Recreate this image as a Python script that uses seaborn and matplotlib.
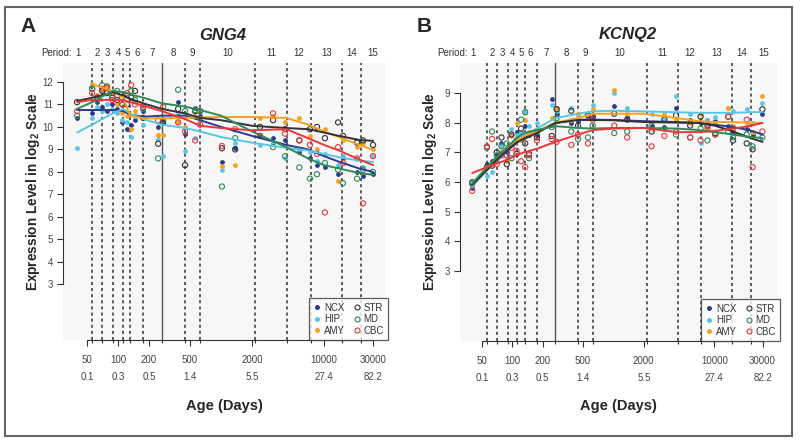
import numpy as np
import pandas as pd
import matplotlib
matplotlib.use("Agg")
import matplotlib.pyplot as plt
import matplotlib.transforms as mtransforms
from matplotlib.lines import Line2D
from matplotlib.patches import Rectangle
from matplotlib.ticker import FixedLocator, NullFormatter
import seaborn as sns

nan = np.nan

# Regions and how they are drawn
regions = ["NCX", "HIP", "AMY", "STR", "MD", "CBC"]
region_colors = ["#2c3a8e", "#5bc6e3", "#f5a21f", "#333333", "#2e8b57", "#e8383d"]
filled = [True, True, True, False, False, False]

# Developmental periods (days post conception)
period_bounds = [56, 70, 90, 112, 132, 175, 266, 448, 630, 2150, 4400, 7400, 15000, 22800]
birth_day = 266
period_names = [str(i) for i in range(1, 16)]

tick_days = [50, 100, 200, 500, 2000, 10000, 30000]
tick_years = ["0.1", "0.3", "0.5", "1.4", "5.5", "27.4", "82.2"]

# Sample ages (days) of the scatter points
sample_days = [40, 56, 63, 70, 78, 88, 98, 110, 122, 134, 146, 175, 245, 274, 383, 447,
               560, 625, 1020, 1370, 2390, 3200, 4180, 5760, 7300, 8550, 10200, 13700,
               15300, 20900, 23900, 29900]

# Ages (days) at which the fitted curves are read
fit_days = [40, 56, 70, 89, 112, 131, 175, 266, 447, 625, 1000, 2000, 4300, 7000,
            10000, 14000, 22000, 30000]

# GNG4 samples
gng4_ncx = [10.4, 10.6, 11.1, 10.9, 10.7, 11.0, 10.8, 10.2, 9.9, 10.1, 10.3, 10.7, 10.0, 10.2, 11.1, 9.7,
            10.85, 10.5, 8.45, 9.05, 9.6, 9.5, 9.4, 8.9, 8.6, 8.3, 8.2, 7.9, 8.6, 8.0, 7.8, 7.9]
gng4_hip = [9.05, 10.4, 10.9, 10.7, 11.0, 10.8, 10.6, 10.3, 10.2, 9.55, 10.5, 10.1, 9.45, 8.7, 10.6, 8.95,
            9.5, 10.3, 8.1, 9.3, 9.2, 9.3, 8.6, 9.0, 8.9, 8.5, 8.8, 8.3, 8.7, 8.6, 8.2, 8.7]
gng4_amy = [nan, 11.9, 11.4, 11.7, 11.8, 11.5, 11.0, 10.6, 10.5, 9.9, 10.7, 10.4, 9.65, 9.65, 10.2, 10.0,
            10.5, 10.3, 8.25, 8.3, 10.4, 10.5, 10.2, 10.4, 9.6, 9.0, 9.9, 7.6, 9.4, 9.1, 9.3, 9.0]
gng4_str = [11.1, 11.7, 11.3, 11.6, 11.5, 11.3, 11.2, 11.0, 11.0, 11.3, 11.6, 10.4, 9.25, 10.2, 10.8, 8.3,
            10.7, 10.7, 9.05, 9.0, 10.0, 10.3, 9.9, 9.4, 9.9, 10.0, 9.5, 10.2, 9.6, 9.3, 9.4, 9.2]
gng4_md = [10.5, 11.7, 11.2, 11.85, 11.8, 11.4, 11.6, 11.3, 11.4, 11.6, 11.2, 10.8, 8.6, 10.3, 11.65, 10.7,
           10.75, 10.7, 7.35, 9.5, 9.6, 9.1, 8.7, 8.2, 7.7, 7.9, 8.4, 8.1, 7.5, 7.7, 8.1, 8.0]
gng4_cbc = [10.7, 11.5, 11.3, 11.7, 11.75, 11.2, 11.4, 11.0, 11.5, 11.85, 11.0, 10.9, 10.3, 10.9, 10.2, 9.8,
            9.4, 10.1, 9.15, 9.9, 9.6, 10.6, 9.7, 9.4, 9.2, 8.8, 6.2, 9.1, 8.4, 8.6, 6.6, 8.7]

# GNG4 fitted curves
gng4_ncx_fit = [10.75, 10.75, 10.75, 10.75, 10.7, 10.55, 10.45, 10.5, 10.5, 10.3, 10.0, 9.6, 9.2, 9.0, 8.7, 8.45, 8.15, 8.0]
gng4_hip_fit = [9.75, 10.1, 10.35, 10.6, 10.8, 10.6, 10.35, 10.1, 9.95, 9.8, 9.55, 9.3, 9.07, 8.95, 8.8, 8.65, 8.5, 8.44]
gng4_amy_fit = [nan, 11.9, 11.75, 11.6, 11.3, 10.5, 10.38, 10.38, 10.4, 10.42, 10.44, 10.44, 10.4, 10.1, 9.8, 9.55, 9.2, 8.98]
gng4_str_fit = [11.15, 11.3, 11.4, 11.55, 11.4, 11.25, 11.05, 10.8, 10.6, 10.4, 10.3, 10.05, 9.95, 9.9, 9.75, 9.6, 9.42, 9.38]
gng4_md_fit = [10.8, 11.1, 11.35, 11.6, 11.55, 11.45, 11.3, 11.05, 10.9, 10.75, 10.5, 9.8, 9.1, 8.6, 8.3, 8.15, 7.95, 7.87]
gng4_cbc_fit = [11.1, 11.2, 11.2, 11.2, 11.2, 11.1, 10.95, 10.7, 10.35, 10.05, 9.95, 9.85, 9.9, 9.5, 9.2, 8.95, 8.55, 8.3]

# KCNQ2 samples
kcnq2_ncx = [5.8, 6.6, 6.7, 6.9, 7.3, 7.0, 7.6, 7.7, 7.5, 7.9, 7.6, 7.6, 8.8, 8.3, 8.0, 8.05,
             8.2, 8.2, 8.55, 8.2, 7.9, 7.85, 8.5, 8.1, 8.0, 8.1, 8.05, 7.9, 7.7, 7.8, 7.6, 8.3]
kcnq2_hip = [5.9, 6.2, 6.35, 6.7, 7.2, 6.8, 7.8, 7.6, 7.7, 8.4, 7.9, 8.0, 8.6, 8.4, 8.5, 8.2,
             8.3, 8.6, 9.0, 8.5, 8.3, 8.1, 8.9, 8.3, 7.3, 8.1, 8.2, 8.5, 8.4, 8.45, 8.0, 8.65]
kcnq2_amy = [nan, 6.55, 6.6, 6.8, 7.0, 6.7, 7.55, 8.0, 7.4, 8.1, 7.7, 7.8, 8.15, 8.5, 8.1, 8.3,
             8.2, 8.45, 9.1, 8.3, 7.8, 8.3, 8.1, 8.0, 8.3, 7.8, 8.0, 8.5, 7.9, 8.0, 7.7, 8.9]
kcnq2_str = [5.95, 6.5, 6.55, 7.0, 7.5, 6.6, 7.6, 6.95, 7.8, 7.3, 6.95, 7.5, 7.55, 8.45, 8.4, 7.9,
             8.25, 8.2, 8.3, 8.1, 7.7, 8.1, 8.25, 7.9, 8.2, 7.9, 7.65, 8.2, 7.4, 7.3, 7.1, 8.45]
kcnq2_md = [6.0, 7.15, 7.7, 6.9, 7.2, 7.3, 6.8, 7.4, 8.1, 8.35, 6.8, 7.7, 7.85, 8.15, 7.7, 7.45,
            7.5, 7.9, 7.65, 7.7, 7.9, 7.8, 7.6, 7.5, 7.8, 7.4, 7.6, 7.7, 7.5, 7.6, 7.2, 7.5]
kcnq2_cbc = [5.7, 7.2, 7.45, 6.6, 6.9, 6.9, 7.15, 7.05, 6.7, 6.5, 6.9, 7.4, 7.45, 7.35, 7.25, 7.6,
             7.3, 8.1, 7.9, 7.5, 7.2, 7.55, 7.7, 7.5, 7.4, 7.8, 7.6, 8.2, 7.8, 8.1, 6.5, 7.7]

# KCNQ2 fitted curves
kcnq2_ncx_fit = [5.9, 6.4, 6.72, 7.05, 7.35, 7.5, 7.7, 7.98, 8.1, 8.1, 8.09, 8.05, 8.02, 7.99, 7.93, 7.87, 7.75, 7.6]
kcnq2_hip_fit = [5.85, 6.4, 6.75, 7.1, 7.45, 7.6, 7.8, 8.15, 8.3, 8.38, 8.4, 8.38, 8.35, 8.33, 8.33, 8.33, 8.35, 8.36]
kcnq2_amy_fit = [nan, 6.45, 6.75, 7.1, 7.4, 7.55, 7.7, 8.0, 8.15, 8.3, 8.3, 8.3, 8.15, 8.05, 8.02, 8.02, 8.0, 7.99]
kcnq2_str_fit = [5.9, 6.4, 6.75, 7.08, 7.35, 7.45, 7.65, 7.99, 8.09, 8.09, 8.08, 8.02, 8.0, 7.99, 7.9, 7.75, 7.5, 7.35]
kcnq2_md_fit = [5.95, 6.5, 6.85, 7.18, 7.5, 7.65, 7.75, 7.88, 7.82, 7.8, 7.82, 7.82, 7.8, 7.75, 7.68, 7.62, 7.52, 7.48]
kcnq2_cbc_fit = [6.3, 6.5, 6.62, 6.75, 6.92, 7.0, 7.12, 7.35, 7.6, 7.75, 7.8, 7.82, 7.68, 7.68, 7.72, 7.78, 7.88, 7.99]


def long_frame(days, series):
    frames = [pd.DataFrame({"days": days, "value": vals, "region": name})
              for name, vals in zip(regions, series)]
    return pd.concat(frames, ignore_index=True).dropna()


sns.set_style("white")
plt.rcParams["font.family"] = ["Liberation Sans", "DejaVu Sans"]
plt.rcParams["mathtext.fontset"] = "custom"
plt.rcParams["mathtext.rm"] = "Liberation Sans"
plt.rcParams["mathtext.bf"] = "Liberation Sans:bold"
plt.rcParams["mathtext.it"] = "Liberation Sans:italic"

fig = plt.figure(figsize=(8, 4.45), dpi=100)


def draw_panel(ax, points, fits, xlim, ylim, yticks):
    ax.set_facecolor("#f7f7f7")
    ax.set_xscale("log")

    for b in period_bounds:
        if b == birth_day:
            ax.axvline(b, color="#555555", lw=1.0, zorder=1)
        else:
            ax.axvline(b, color="#333333", lw=1.1, ls=(0, (2, 2)), zorder=1)

    for name, color, fill in zip(regions, region_colors, filled):
        sub = points[points["region"] == name]
        if fill:
            sns.scatterplot(data=sub, x="days", y="value", color=color, s=12,
                            linewidth=0, ax=ax, zorder=2)
        else:
            sns.scatterplot(data=sub, x="days", y="value", color=color, facecolor="none",
                            edgecolor=color, s=14, linewidth=0.8, ax=ax, zorder=2)
    for name, color in zip(regions, region_colors):
        sub = fits[fits["region"] == name]
        sns.lineplot(data=sub, x="days", y="value", color=color, lw=1.4,
                     estimator=None, sort=True, ax=ax, zorder=3)

    ax.set_xlim(*xlim)
    ax.set_ylim(*ylim)
    ax.set_xlabel("")
    ax.set_ylabel("")

    ax.set_xticks(tick_days)
    ax.set_xticklabels([f"{d}\n{y}" for d, y in zip(tick_days, tick_years)], linespacing=1.9)
    ax.xaxis.set_minor_locator(FixedLocator(period_bounds))
    ax.xaxis.set_minor_formatter(NullFormatter())
    ax.set_yticks(yticks)
    ax.tick_params(axis="x", which="major", length=4, width=0.8, pad=7, labelsize=7,
                   labelcolor="#444444", color="#333333", bottom=True)
    ax.tick_params(axis="x", which="minor", length=2.5, width=0.8, color="#333333", bottom=True)
    ax.tick_params(axis="y", length=4, width=0.8, pad=3, labelsize=7,
                   labelcolor="#444444", color="#333333", left=True)

    for side in ["top", "right"]:
        ax.spines[side].set_visible(False)
    ax.spines["bottom"].set_bounds(tick_days[0], tick_days[-1])
    ax.spines["left"].set_bounds(yticks[0], yticks[-1])
    for side in ["bottom", "left"]:
        ax.spines[side].set_color("#333333")
        ax.spines[side].set_linewidth(0.8)

    # period numbers above the plot
    edges = [xlim[0]] + period_bounds + [xlim[1]]
    trans = mtransforms.blended_transform_factory(ax.transData, ax.transAxes)
    for i, name in enumerate(period_names):
        xc = np.sqrt(edges[i] * edges[i + 1])
        ax.text(xc, 1.036, name, transform=trans, ha="center", va="center",
                fontsize=7, color="#333333")
    ax.annotate("Period:", xy=(np.sqrt(edges[0] * edges[1]), 1.036), xycoords=trans,
                xytext=(-6, 0), textcoords="offset pixels", ha="right", va="center",
                fontsize=7, color="#333333")

    handles = []
    for color, fill in zip(region_colors, filled):
        handles.append(Line2D([], [], ls="", marker="o", ms=3.6, color=color,
                              markerfacecolor=color if fill else "none",
                              markeredgewidth=0 if fill else 0.8))
    leg = ax.legend(handles, regions, ncol=2, loc="lower right", bbox_to_anchor=(1.01, 0),
                    frameon=True, fancybox=False, fontsize=7, handlelength=0.8,
                    handletextpad=0.3, columnspacing=0.8, borderpad=0.45,
                    labelspacing=0.15, borderaxespad=0)
    leg.get_frame().set_edgecolor("#333333")
    leg.get_frame().set_linewidth(0.9)
    leg.get_frame().set_facecolor("white")
    for t in leg.get_texts():
        t.set_color("#333333")


ax_a = fig.add_axes([63 / 800, 105 / 445, 322 / 800, 277 / 445])
draw_panel(ax_a,
           long_frame(sample_days, [gng4_ncx, gng4_hip, gng4_amy, gng4_str, gng4_md, gng4_cbc]),
           long_frame(fit_days, [gng4_ncx_fit, gng4_hip_fit, gng4_amy_fit,
                                 gng4_str_fit, gng4_md_fit, gng4_cbc_fit]),
           (29.2, 39100), (0.53, 12.84), list(range(3, 13)))

ax_b = fig.add_axes([460 / 800, 104 / 445, 317 / 800, 278 / 445])
draw_panel(ax_b,
           long_frame(sample_days, [kcnq2_ncx, kcnq2_hip, kcnq2_amy, kcnq2_str, kcnq2_md, kcnq2_cbc]),
           long_frame(fit_days, [kcnq2_ncx_fit, kcnq2_hip_fit, kcnq2_amy_fit,
                                 kcnq2_str_fit, kcnq2_md_fit, kcnq2_cbc_fit]),
           (30.3, 41700), (0.64, 10.01), list(range(3, 10)))

ylab = r"Expression Level in $\mathbf{log_2}$ Scale"
for letter, lx, title, tx, yx, xx in [("A", 28, "GNG4", 223, 33, 224),
                                      ("B", 424, "KCNQ2", 628, 430, 618)]:
    fig.text(lx / 800, 1 - 27 / 445, letter, fontsize=15, fontweight="bold",
             ha="center", va="center")
    fig.text(tx / 800, 1 - 35 / 445, title, fontsize=12, fontweight="bold",
             fontstyle="italic", ha="center", va="center")
    fig.text(yx / 800, 1 - 192 / 445, ylab, fontsize=9.8, fontweight="bold",
             rotation=90, ha="center", va="center")
    fig.text(xx / 800, 1 - 406 / 445, "Age (Days)", fontsize=10.5, fontweight="bold",
             ha="center", va="center")

fig.add_artist(Rectangle((5 / 800, 9 / 445), 787 / 800, 429 / 445, transform=fig.transFigure,
                         fill=False, edgecolor="#666666", lw=1.5))

fig.savefig("out.png", dpi=100)
